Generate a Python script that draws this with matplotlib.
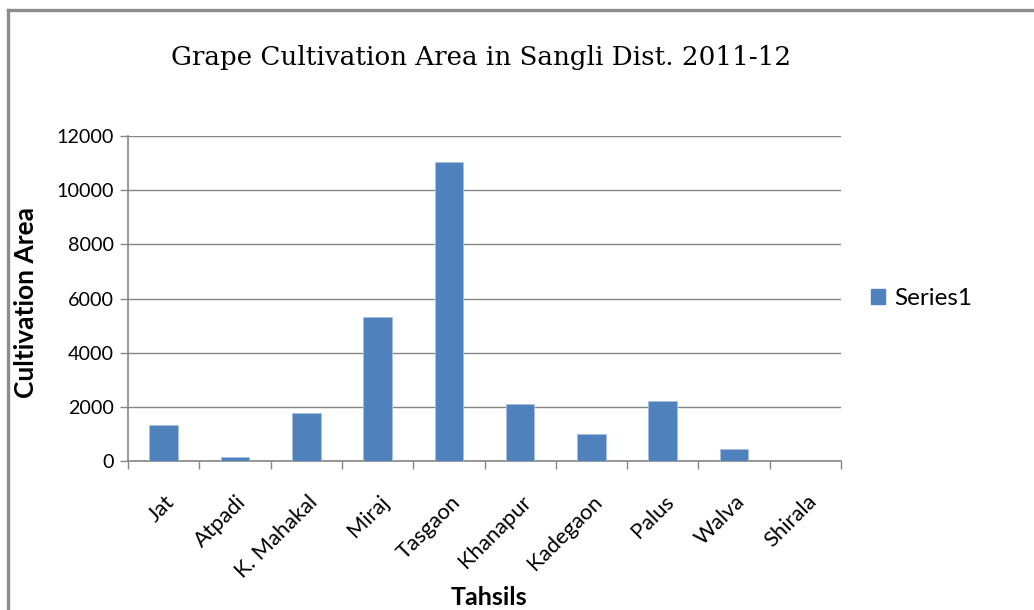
import matplotlib
matplotlib.use("Agg")
import matplotlib.pyplot as plt
from matplotlib.patches import Rectangle
from matplotlib.lines import Line2D
import matplotlib.transforms as mtransforms

# Tahsil-wise grape cultivation area, Sangli district, 2011-12
tahsils = ["Jat", "Atpadi", "K. Mahakal", "Miraj", "Tasgaon",
           "Khanapur", "Kadegaon", "Palus", "Walva", "Shirala"]
area = [1340, 160, 1780, 5330, 11040, 2120, 1000, 2230, 460, 0]
yticks = [0, 2000, 4000, 6000, 8000, 10000, 12000]
series_name = "Series1"

BAR = "#4F81BD"
GRID = "#868686"
SANS = ["Lato", "DejaVu Sans"]

fig = plt.figure(figsize=(10.34, 6.10), dpi=100)
fig.patch.set_facecolor("white")

# outer chart frame (left and top edges)
fig.add_artist(Line2D([8 / 1034, 8 / 1034], [0, 1 - 10 / 610],
                      color="#8c8c8c", lw=2.4, transform=fig.transFigure))
fig.add_artist(Line2D([8 / 1034, 1], [1 - 10 / 610, 1 - 10 / 610],
                      color="#8c8c8c", lw=2.4, transform=fig.transFigure))

ax = fig.add_axes([128 / 1034, 1 - 461 / 610, (841 - 128) / 1034, (461 - 136) / 610])
x = list(range(len(tahsils)))
ax.bar(x, area, width=0.4, color=BAR, edgecolor="#A7BFDE", linewidth=0.6, zorder=3)

ax.set_xlim(-0.5, len(tahsils) - 0.5)
ax.set_ylim(0, 12000)
ax.set_yticks(yticks)
ax.set_yticklabels([str(v) for v in yticks], fontfamily=SANS, fontsize=14.2)
ax.yaxis.grid(True, color=GRID, lw=1.0, zorder=0)

# category boundaries carry the tick marks, labels sit at centres
ax.set_xticks([i - 0.5 for i in range(len(tahsils) + 1)])
ax.set_xticklabels([])
ax.set_xticks(x, minor=True)
ax.set_xticklabels(tahsils, minor=True, rotation=45, ha="right", va="top",
                   rotation_mode="anchor", fontfamily=SANS, fontsize=15.8)
ax.tick_params(axis="x", which="minor", length=0, pad=22)
ax.tick_params(axis="x", which="major", length=6, color=GRID, width=1)
ax.tick_params(axis="y", length=6, color=GRID, width=1, pad=4)
shift = mtransforms.ScaledTranslation(1 / 100, 0, fig.dpi_scale_trans)
for lbl in ax.get_xticklabels(minor=True):
    lbl.set_transform(lbl.get_transform() + shift)

for side in ("top", "right"):
    ax.spines[side].set_visible(False)
for side in ("left", "bottom"):
    ax.spines[side].set_color(GRID)
    ax.spines[side].set_linewidth(1.2)

ax.set_ylabel("Cultivation Area", fontfamily=SANS, fontsize=19,
              fontweight="bold")
ax.yaxis.set_label_coords(-(128 - 38) / 713, (461 - 302) / 325)
ax.set_xlabel("Tahsils", fontfamily=SANS, fontsize=18, fontweight="bold")
ax.xaxis.set_label_coords((489 - 128) / 713, -(586 - 461) / 325)

fig.text(481 / 1034, 1 - 57 / 610, "Grape Cultivation Area in Sangli Dist. 2011-12",
         ha="center", va="center", fontfamily=["DejaVu Serif"], fontsize=18.8)

leg = ax.legend([Rectangle((0, 0), 1, 1, color=BAR)], [series_name],
                loc="center left", bbox_to_anchor=(1.011, 0.5), frameon=False,
                prop={"family": SANS, "size": 17.5}, handlelength=0.6,
                handleheight=0.6, handletextpad=0.35)

fig.savefig("out.png", dpi=100, facecolor="white")
